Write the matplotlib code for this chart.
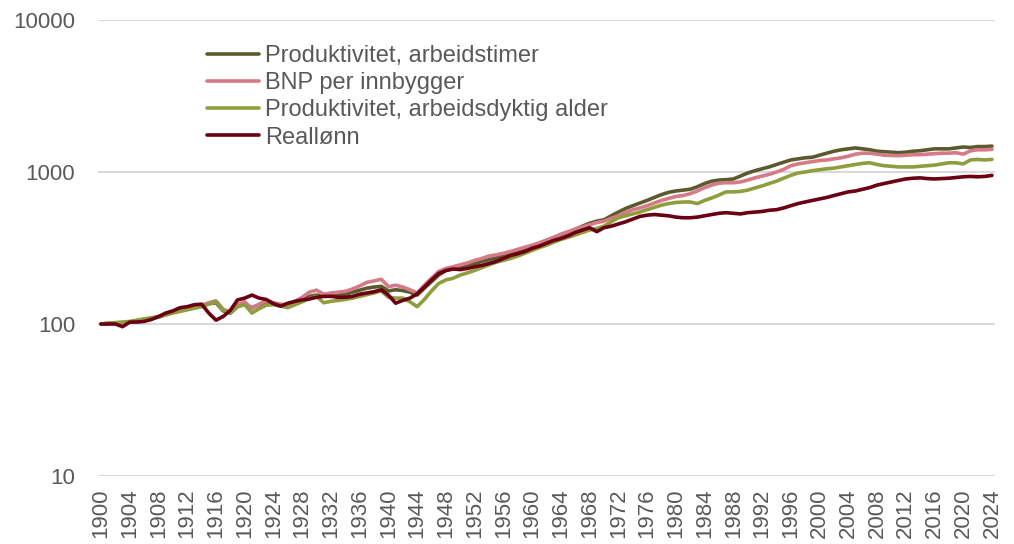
import numpy as np
import matplotlib
matplotlib.use('Agg')
import matplotlib.pyplot as plt

plt.rcParams['font.family'] = ['Liberation Sans', 'DejaVu Sans']

years = list(range(1900, 2025))

# Produktivitet, arbeidstimer (indeks 1900 = 100)
prod_timer = [
    100, 101, 101, 102, 103, 105, 107, 109, 111, 115,
    119, 123, 126, 129, 132, 136, 138, 122, 118, 130,
    136, 128, 134, 140, 136, 134, 133, 139, 145, 152,
    155, 152, 153, 155, 157, 162, 167, 172, 175, 177,
    165, 168, 166, 162, 155, 172, 190, 210, 225, 232,
    236, 243, 250, 258, 265, 272, 282, 290, 298, 310,
    325, 340, 355, 370, 385, 400, 420, 440, 460, 475,
    485, 515, 545, 575, 600, 625, 650, 680, 710, 735,
    750, 760, 770, 800, 840, 870, 885, 890, 900, 940,
    985, 1020, 1050, 1080, 1120, 1160, 1200, 1220, 1240, 1250,
    1290, 1330, 1370, 1400, 1420, 1440, 1420, 1400, 1370, 1360,
    1350, 1340, 1350, 1370, 1380, 1400, 1420, 1420, 1420, 1440,
    1460, 1450, 1470, 1470, 1480,
]

# BNP per innbygger
bnp = [
    100, 101, 102, 102, 103, 105, 107, 109, 111, 115,
    119, 123, 126, 130, 133, 138, 142, 125, 120, 134,
    140, 126, 135, 142, 138, 135, 133, 141, 150, 162,
    167, 157, 160, 162, 164, 170, 178, 188, 192, 197,
    176, 180, 175, 168, 160, 180, 200, 222, 232, 238,
    245, 252, 262, 270, 280, 285, 292, 300, 310, 320,
    330, 342, 355, 372, 390, 405, 420, 435, 450, 465,
    475, 495, 515, 540, 565, 580, 600, 625, 650, 670,
    690, 700, 720, 750, 790, 820, 845, 850, 850, 860,
    885, 915, 940, 965, 1000, 1040, 1100, 1130, 1150, 1170,
    1190, 1200, 1220, 1240, 1270, 1310, 1330, 1330, 1310, 1290,
    1285, 1280, 1290, 1300, 1300, 1310, 1320, 1330, 1330, 1340,
    1310, 1380, 1400, 1400, 1410,
]

# Produktivitet, arbeidsdyktig alder
prod_alder = [
    100, 101, 102, 103, 104, 106, 108, 110, 112, 115,
    118, 121, 124, 127, 130, 135, 140, 123, 118, 130,
    134, 118, 126, 133, 134, 131, 128, 134, 140, 147,
    152, 138, 141, 143, 145, 148, 152, 156, 160, 165,
    150, 148, 148, 140, 130, 145, 165, 185, 195, 200,
    210, 217, 225, 235, 245, 255, 262, 270, 280, 292,
    305, 318, 330, 345, 360, 372, 385, 400, 415, 425,
    440, 470, 500, 515, 530, 545, 565, 585, 605, 620,
    630, 635, 635, 620, 650, 675, 705, 740, 740, 745,
    760, 785, 810, 840, 870, 910, 950, 985, 1000, 1020,
    1035, 1050, 1060, 1080, 1100, 1120, 1140, 1150, 1120, 1100,
    1090, 1080, 1080, 1080, 1090, 1100, 1110, 1130, 1150, 1150,
    1130, 1200, 1210, 1200, 1210,
]

# Reallønn
realloenn = [
    100, 100, 100, 96, 103, 103, 104, 107, 112, 118,
    122, 128, 130, 134, 135, 118, 106, 112, 123, 144,
    148, 155, 148, 145, 136, 131, 137, 141, 144, 146,
    150, 152, 152, 150, 150, 152, 157, 160, 163, 168,
    155, 137, 143, 148, 158, 175, 195, 215, 225, 230,
    228, 232, 238, 243, 250, 258, 270, 282, 290, 300,
    315, 325, 340, 355, 365, 380, 400, 415, 430, 405,
    430, 440, 455, 470, 490, 510, 520, 525, 520, 515,
    505, 500, 500, 505, 515, 525, 535, 540, 535, 530,
    540, 545, 550, 560, 565, 580, 600, 620, 635, 650,
    665, 680, 700, 720, 740, 750, 770, 790, 820, 840,
    860, 880, 900, 910, 915, 905, 900, 905, 910, 920,
    930, 935, 930, 935, 950,
]

labels = ['Produktivitet, arbeidstimer', 'BNP per innbygger',
          'Produktivitet, arbeidsdyktig alder', 'Reallønn']
colors = ['#5b5a2f', '#d57a86', '#8e9d3d', '#6a0012']
series = [prod_timer, bnp, prod_alder, realloenn]

fig = plt.figure(figsize=(10.14, 5.44), dpi=100)
ax = fig.add_axes([98 / 1014, 1 - 476 / 544, (995 - 98) / 1014, (476 - 20) / 544])

for vals, lab, col in zip(series, labels, colors):
    ax.plot(years, vals, color=col, linewidth=2.6, label=lab, solid_capstyle='round')

ax.set_yscale('log')
ax.set_ylim(10, 10000)
ax.set_xlim(1899.58, 2024.42)
ax.set_yticks([10, 100, 1000, 10000])
ax.set_yticklabels(['10', '100', '1000', '10000'])
ax.yaxis.set_minor_locator(matplotlib.ticker.NullLocator())
ax.set_xticks(years[::4])
ax.set_xticklabels([str(y) for y in years[::4]], rotation=90)

ax.grid(axis='y', color='#d9d9d9', linewidth=1.5)
ax.set_axisbelow(True)
for s in ax.spines.values():
    s.set_visible(False)
ax.tick_params(axis='both', length=0, labelsize=16, colors='#595959')
ax.tick_params(axis='y', pad=16.5)
ax.tick_params(axis='x', pad=9)

leg = ax.legend(loc='upper left', bbox_to_anchor=(207 / 1014, 1 - 45 / 544),
                bbox_transform=fig.transFigure, frameon=False, fontsize=17,
                handlelength=2.2, handletextpad=0.25, labelspacing=0.22,
                borderpad=0, borderaxespad=0)
for t in leg.get_texts():
    t.set_color('#595959')

fig.savefig('out.png', dpi=100)
